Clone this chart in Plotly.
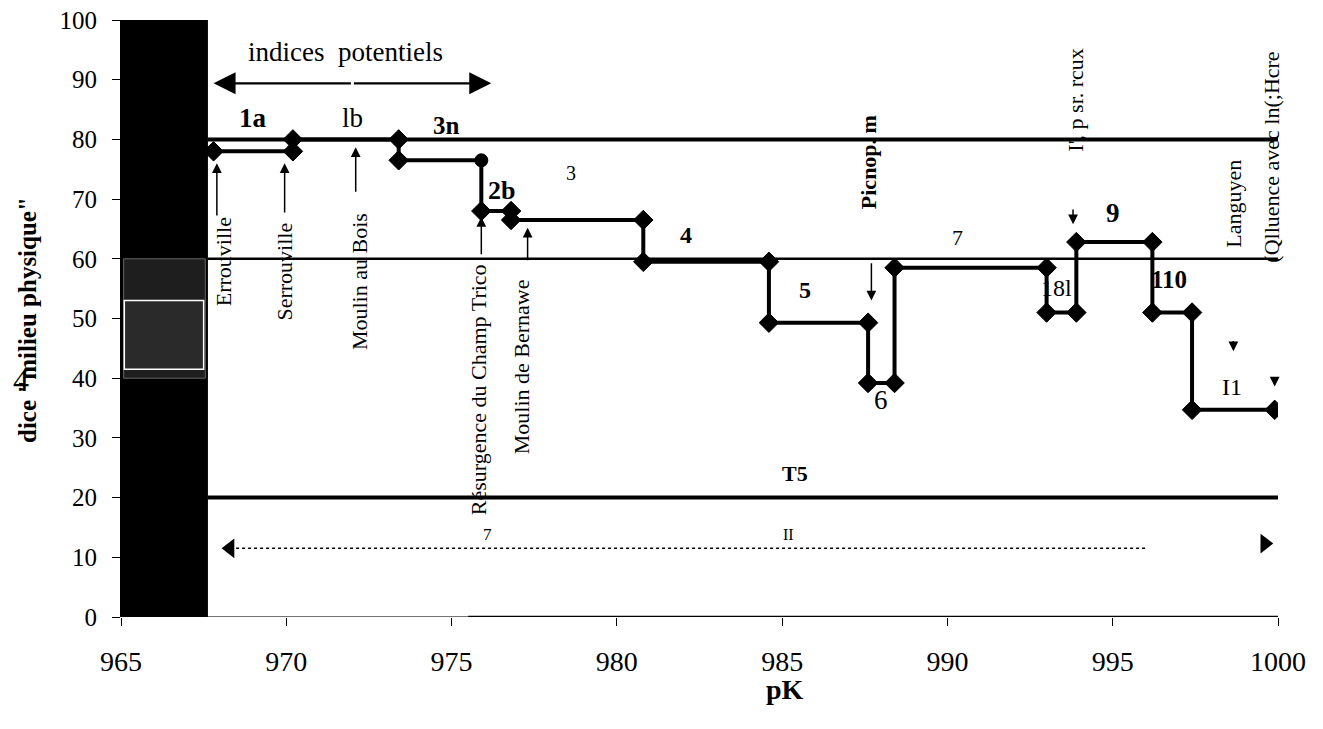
import plotly.graph_objects as go

# ---- data ----
step_pk = [967.8, 970.2, 970.2, 973.4, 973.4, 975.9, 975.9, 976.8, 976.8, 980.8, 980.8,
           984.6, 984.6, 987.6, 987.6, 988.4, 988.4, 993.0, 993.0, 993.9, 993.9, 996.2,
           996.2, 997.4, 997.4, 999.9]
step_idx = [78, 78, 80, 80, 76.5, 76.5, 68, 68, 66.5, 66.5, 59.5,
            59.5, 49.3, 49.3, 39.2, 39.2, 58.5, 58.5, 51, 51, 62.8, 62.8,
            51, 51, 34.7, 34.7]
ref_levels = [80, 60, 20]
ref_widths = [4, 2.5, 4]

seg_labels = ["1a", "lb", "3n", "2b", "3", "4", "5", "6", "7", "18l", "9", "110", "I1"]
seg_x = [969.0, 972.0, 974.85, 976.5, 978.6, 982.1, 985.7, 988.0, 990.3, 993.3, 995.0, 996.7, 998.6]
seg_y = [83.6, 83.6, 82.3, 71.5, 74.3, 64.0, 54.8, 36.3, 63.5, 55.1, 67.7, 56.5, 38.6]
seg_bold = [True, False, True, True, False, True, True, False, False, False, True, True, False]
seg_size = [27, 27, 25, 26, 20, 24, 24, 27, 22, 24, 27, 25, 24]

site_names = ["Errouville", "Serrouville", "Moulin au Bois", "Résurgence du Champ Trico",
              "Moulin de Bernawe", "Picnop. m", "I', p sr. rcux", "Languyen",
              "(Qlluence avec ln(;Hcre"]
site_x = [968.1, 969.95, 972.2, 975.8, 977.1, 987.6, 993.85, 998.65, 999.8]
site_y = [59.5, 57.8, 56.1, 38.0, 42.0, 76.2, 86.6, 69.3, 77.0]
site_bold = [False, False, False, False, False, True, False, False, False]

# arrows: (x, tail y, head y)
arr_x = [967.9, 969.95, 972.1, 975.9, 977.3, 987.7, 993.8, 998.65, 999.9]
arr_tail = [67.0, 67.5, 71.0, 60.5, 59.5, 59.5, 68.5, 46.5, 40.4]
arr_head = [76.0, 76.0, 78.7, 67.0, 65.2, 53.0, 65.8, 44.5, 38.6]

potential_x = [967.8, 976.2]
potential_y = 89.4
dotted_x = [968.3, 996.0]
dotted_y = 11.5

x_ticks = [965, 970, 975, 980, 985, 990, 995, 1000]
x_ticktext = ["965", "970", "975", "980", "985", "990", "995", "1000"]
y_ticks = list(range(0, 101, 10))

SERIF = "Liberation Serif"
OFF = 8  # page body margin in the browser

fig = go.Figure()

# reference lines
for lev, w in zip(ref_levels, ref_widths):
    fig.add_shape(type="line", x0=967.63, x1=1000, y0=lev, y1=lev,
                  line=dict(color="black", width=w), layer="below")
# x axis baseline
fig.add_shape(type="line", x0=967.63, x1=975.5, y0=0, y1=0,
              line=dict(color="#444", width=1.5), layer="below")
fig.add_shape(type="line", x0=975.5, x1=1000, y0=0, y1=0,
              line=dict(color="black", width=2.5), layer="below")

# black bar
fig.add_shape(type="rect", x0=965, x1=967.63, y0=0, y1=100,
              fillcolor="black", line=dict(width=0), layer="below")
fig.add_shape(type="rect", x0=965.08, x1=967.55, y0=40, y1=60,
              fillcolor="#1e1e1e", line=dict(color="#666", width=1), layer="below")
fig.add_shape(type="rect", x0=965.1, x1=967.5, y0=41.5, y1=53,
              fillcolor="#2a2a2a", line=dict(color="white", width=1.5), layer="below")

# step series
symbols = ["diamond"] * len(step_pk)
symbols[5] = "circle"
sizes = [15] * len(step_pk)
sizes[5] = 13
fig.add_trace(go.Scatter(x=step_pk, y=step_idx, mode="lines+markers",
                         line=dict(color="black", width=4),
                         marker=dict(symbol=symbols, size=sizes, color="black",
                                     opacity=1, line=dict(color="black", width=1)),
                         showlegend=False, hoverinfo="skip"))

# dotted line at ~11
fig.add_trace(go.Scatter(x=dotted_x, y=[dotted_y, dotted_y], mode="lines",
                         line=dict(color="black", width=1.5, dash="dot"),
                         showlegend=False, hoverinfo="skip"))
fig.add_trace(go.Scatter(x=[dotted_x[0]], y=[dotted_y], mode="markers",
                         marker=dict(symbol="triangle-left", size=17, color="black"),
                         showlegend=False, hoverinfo="skip"))
fig.add_trace(go.Scatter(x=[999.6], y=[12.3], mode="markers",
                         marker=dict(symbol="triangle-right", size=17, color="black"),
                         showlegend=False, hoverinfo="skip"))
fig.add_annotation(x=985.4, y=24.0, text="<b>T5</b>", showarrow=False,
                   font=dict(family=SERIF, size=22, color="black"))
fig.add_annotation(x=976.1, y=13.8, text="7", showarrow=False,
                   font=dict(family=SERIF, size=17, color="black"))
fig.add_annotation(x=985.2, y=13.8, text="II", showarrow=False,
                   font=dict(family=SERIF, size=16, color="black"))

# indices potentiels double arrow
mid = (potential_x[0] + potential_x[1]) / 2
for xe in potential_x:
    fig.add_annotation(x=xe, y=potential_y, ax=mid, ay=potential_y,
                       axref="x", ayref="y", xref="x", yref="y", text="",
                       showarrow=True, arrowhead=2, arrowsize=2.0, arrowwidth=2.2,
                       arrowcolor="black")
fig.add_annotation(x=971.8, y=94.6, text="indices  potentiels", showarrow=False,
                   font=dict(family=SERIF, size=27, color="black"))

# segment labels
for t, x, y, b, s in zip(seg_labels, seg_x, seg_y, seg_bold, seg_size):
    fig.add_annotation(x=x, y=y, text=f"<b>{t}</b>" if b else t, showarrow=False,
                       font=dict(family=SERIF, size=s, color="black"))

# site labels (vertical)
for t, x, y, b in zip(site_names, site_x, site_y, site_bold):
    fig.add_annotation(x=x, y=y, text=f"<b>{t}</b>" if b else t, textangle=-90,
                       showarrow=False,
                       font=dict(family=SERIF, size=22, color="black"))

# site arrows
for x, ta, he in zip(arr_x, arr_tail, arr_head):
    fig.add_annotation(x=x, y=he, ax=x, ay=ta, axref="x", ayref="y",
                       xref="x", yref="y", text="", showarrow=True,
                       arrowhead=2, arrowsize=1.3, arrowwidth=1.5, arrowcolor="black")

# axis titles (positions given in screen pixels of the plot area 121..1278 x 20..617)
def px(X):
    return (X - 121) / 1157

def py(Y):
    return (617 - Y) / 597

fig.add_annotation(xref="paper", yref="paper", x=px(27), y=py(320),
                   xanchor="center", yanchor="middle",
                   text='<b>dice "milieu physique"</b>', textangle=-90,
                   showarrow=False, font=dict(family=SERIF, size=25, color="black"))
fig.add_annotation(xref="paper", yref="paper", x=px(21), y=py(380),
                   xanchor="center", yanchor="middle",
                   text="4", showarrow=False, font=dict(family=SERIF, size=32, color="black"))
fig.add_annotation(xref="paper", yref="paper", x=px(785), y=py(690),
                   xanchor="center", yanchor="middle",
                   text="<b>pK</b>", showarrow=False,
                   font=dict(family=SERIF, size=28, color="black"))

fig.update_layout(
    width=1323 - OFF, height=729 - OFF,
    margin=dict(l=121 - OFF, r=45, t=20 - OFF, b=112, autoexpand=False),
    paper_bgcolor="white", plot_bgcolor="white",
    font=dict(family=SERIF, color="black"),
    showlegend=False,
    xaxis=dict(range=[965, 1000], tickvals=x_ticks, ticktext=x_ticktext,
               showgrid=False, zeroline=False, showline=False, automargin=False,
               ticks="outside", ticklen=8, tickcolor="black",
               ticklabelstandoff=11, ticklabeloverflow="allow",
               tickfont=dict(family=SERIF, size=28, color="black")),
    yaxis=dict(range=[0, 100], tickvals=y_ticks, showgrid=False, zeroline=False,
               showline=True, linecolor="black", linewidth=1, automargin=False,
               ticks="outside", ticklen=8, tickcolor="black",
               ticklabelstandoff=10, ticklabeloverflow="allow",
               tickfont=dict(family=SERIF, size=25, color="black")),
)

fig.write_html("out.html")
